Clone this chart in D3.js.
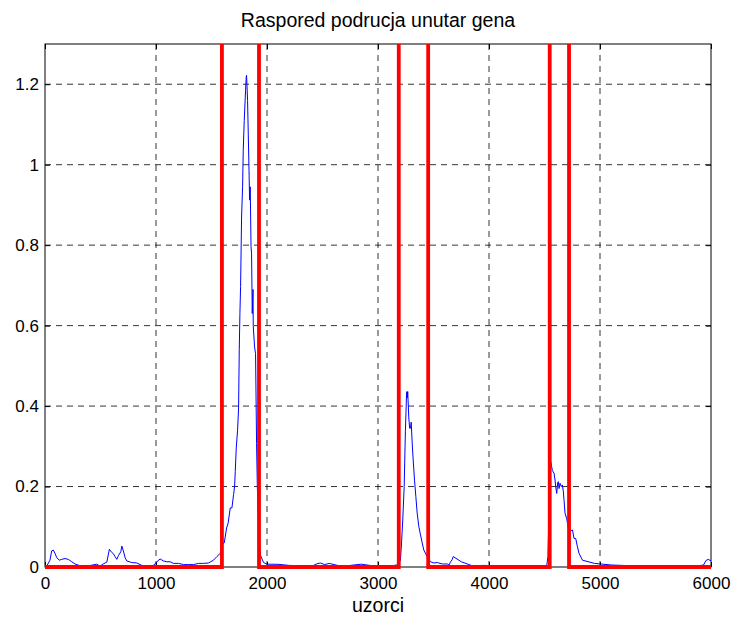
<!DOCTYPE html>
<html><head><meta charset="utf-8">
<script src="https://cdn.jsdelivr.net/npm/d3@7"></script>
<style>body{margin:0;background:#fff}svg{display:block}text{font-family:"Liberation Sans",Arial,sans-serif;fill:#000}</style>
</head><body>
<script>
const title = "Raspored podrucja unutar gena";
const xLabel = "uzorci";
const xTicks = [0,1000,2000,3000,4000,5000,6000];
const yTicks = [0,0.2,0.4,0.6,0.8,1,1.2];
const yTickLabels = ["0","0.2","0.4","0.6","0.8","1","1.2"];
// blue signal (sample index, value)
const blueX = [0,15,45,60,75,90,106,129,151,180,210,241,271,316,376,466,496,526,557,580,602,616,631,647,661,683,692,706,722,737,782,827,872,917,977,1008,1037,1067,1098,1128,1157,1203,1248,1293,1338,1383,1428,1473,1518,1549,1579,1594,1615,1636,1650,1669,1684,1699,1708,1714,1723,1735,1744,1750,1756,1762,1771,1780,1786,1795,1807,1813,1816,1825,1838,1843,1849,1856,1861,1867,1874,1876,1888,1897,1906,1913,1925,1940,1969,2000,2100,2200,2300,2390,2420,2450,2480,2520,2560,2650,2700,2750,2850,2950,3000,3067,3128,3166,3185,3202,3212,3223,3236,3241,3247,3254,3257,3260,3263,3268,3277,3285,3293,3299,3308,3317,3329,3341,3353,3368,3383,3398,3413,3443,3473,3503,3534,3579,3624,3640,3654,3668,3678,3750,3850,3950,4100,4250,4350,4420,4510,4519,4531,4535,4545,4556,4571,4586,4595,4601,4610,4619,4625,4631,4640,4652,4661,4670,4676,4685,4700,4721,4736,4752,4766,4781,4797,4811,4842,4950,5100,5300,5500,5700,5819,5879,5909,5933,5954,5975,6000];
const blueY = [0.002,0.002,0.017,0.040,0.042,0.034,0.023,0.017,0.019,0.021,0.019,0.013,0.0075,0.003,0.002,0.007,0.002,0.008,0.012,0.044,0.036,0.033,0.026,0.019,0.028,0.038,0.052,0.040,0.023,0.015,0.011,0.010,0.004,0.002,0.004,0.013,0.020,0.015,0.013,0.013,0.009,0.009,0.006,0.006,0.006,0.009,0.009,0.010,0.017,0.026,0.034,0.055,0.060,0.097,0.109,0.147,0.147,0.180,0.200,0.237,0.296,0.340,0.395,0.54,0.63,0.697,0.87,0.945,1.036,1.110,1.185,1.218,1.222,1.160,0.986,0.912,0.945,0.796,0.78,0.63,0.69,0.60,0.547,0.530,0.307,0.200,0.084,0.03,0.011,0.007,0.0067,0.004,0.003,0.003,0.004,0.008,0.010,0.006,0.009,0.003,0.002,0.004,0.007,0.003,0.002,0.002,0.003,0.005,0.0075,0.017,0.06,0.117,0.200,0.266,0.340,0.400,0.43,0.436,0.42,0.436,0.373,0.345,0.345,0.36,0.308,0.266,0.216,0.175,0.134,0.100,0.080,0.060,0.042,0.026,0.013,0.010,0.011,0.0075,0.0075,0.005,0.013,0.018,0.026,0.013,0.003,0.004,0.003,0.002,0.002,0.003,0.002,0.001,0.026,0.075,0.183,0.262,0.24,0.233,0.216,0.200,0.183,0.21,0.212,0.195,0.208,0.20,0.204,0.187,0.166,0.134,0.12,0.088,0.09,0.092,0.071,0.071,0.050,0.034,0.017,0.009,0.005,0.003,0.003,0.003,0.003,0.003,0.004,0.005,0.016,0.019,0.015,0.016,0.017];
// red marker edges (region boundaries)
const redEdges = [1594,1928,3187,3452,4547,4721];
const redHigh = 5;

const W=733,H=617, m={l:45,r:22,t:44,b:50};
const svg=d3.select("body").append("svg").attr("width",W).attr("height",H);
const x=d3.scaleLinear().domain([0,6000]).range([m.l,W-m.r]);
const y=d3.scaleLinear().domain([0,1.3]).range([H-m.b,m.t]);

svg.append("defs").append("clipPath").attr("id","clip").append("rect")
  .attr("x",m.l).attr("y",m.t).attr("width",W-m.r-m.l).attr("height",H-m.b-m.t+3);

// grid
const g=svg.append("g");
g.selectAll(".vg").data(xTicks.slice(1,-1)).enter().append("line")
 .attr("x1",d=>x(d)).attr("x2",d=>x(d)).attr("y1",y(0)).attr("y2",y(1.3))
 .attr("stroke","#000").attr("stroke-width",0.8).attr("stroke-dasharray","6,5");
g.selectAll(".hg").data(yTicks.slice(1)).enter().append("line")
 .attr("x1",x(0)).attr("x2",x(6000)).attr("y1",d=>y(d)).attr("y2",d=>y(d))
 .attr("stroke","#000").attr("stroke-width",0.8).attr("stroke-dasharray","6,5");

// axes
const xa=svg.append("g").attr("transform",`translate(0,${y(0)})`)
 .call(d3.axisBottom(x).tickValues(xTicks).tickSize(-5).tickPadding(10).tickFormat(d3.format("d")));
const ya=svg.append("g").attr("transform",`translate(${x(0)},0)`)
 .call(d3.axisLeft(y).tickValues(yTicks).tickSize(-5).tickPadding(6).tickFormat((d,i)=>yTickLabels[i]));
[xa,ya].forEach(a=>{a.select(".domain").remove();a.selectAll("line").attr("stroke","#000");
  a.selectAll("text").attr("font-size",17).attr("font-family","Liberation Sans, Arial, sans-serif");});
svg.append("g").attr("transform",`translate(0,${y(1.3)})`)
 .call(d3.axisTop(x).tickValues(xTicks).tickSize(-5).tickFormat("")).call(a=>a.select(".domain").remove()).selectAll("line").attr("stroke","#000");
svg.append("g").attr("transform",`translate(${x(6000)},0)`)
 .call(d3.axisRight(y).tickValues(yTicks).tickSize(-5).tickFormat("")).call(a=>a.select(".domain").remove()).selectAll("line").attr("stroke","#000");

svg.append("rect").attr("x",m.l).attr("y",m.t).attr("width",W-m.r-m.l).attr("height",H-m.b-m.t)
 .attr("fill","none").attr("stroke","#000").attr("stroke-width",1);

// blue line
const blue=blueX.map((d,i)=>[d,blueY[i]]);
svg.append("path").datum(blue).attr("clip-path","url(#clip)")
 .attr("fill","none").attr("stroke","#0000ff").attr("stroke-width",1)
 .attr("d",d3.line().x(d=>x(d[0])).y(d=>y(d[1])));

// red step
const red=[[0,0]];
redEdges.forEach((e,i)=>{const lo=i%2===0?0:redHigh, hi=i%2===0?redHigh:0; red.push([e,lo]);red.push([e,hi]);});
red.push([6000,0]);
svg.append("path").datum(red).attr("clip-path","url(#clip)")
 .attr("fill","none").attr("stroke","#ff0000").attr("stroke-width",3.8)
 .attr("d",d3.line().x(d=>x(d[0])).y(d=>y(d[1])));

svg.append("text").attr("x",(m.l+W-m.r)/2).attr("y",27).attr("text-anchor","middle").attr("font-size",19.5).text(title);
svg.append("text").attr("x",(m.l+W-m.r)/2).attr("y",612).attr("text-anchor","middle").attr("font-size",19.5).text(xLabel);
</script>
</body></html>
